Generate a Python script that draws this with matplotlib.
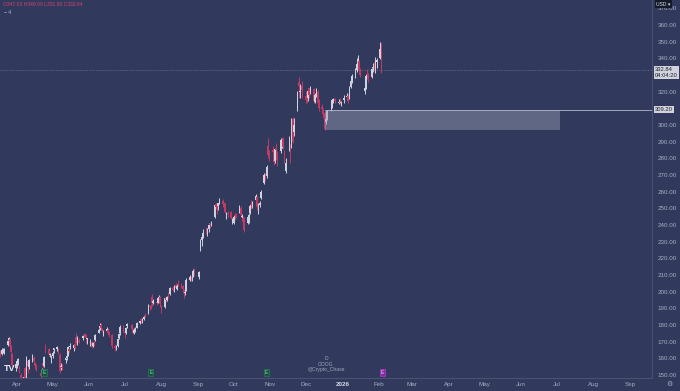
import matplotlib
matplotlib.use("Agg")
import matplotlib.pyplot as plt
import matplotlib.dates as mdates
from matplotlib.patches import Rectangle
from matplotlib.ticker import FuncFormatter, FixedLocator
from matplotlib.transforms import blended_transform_factory
import numpy as np
import pandas as pd

plt.rcParams['font.family'] = ['Liberation Sans', 'DejaVu Sans']

# GOOG daily candles, 17 Mar 2025 - 3 Feb 2026 (US market holidays skipped)
holidays = ["2025-04-18", "2025-05-26", "2025-06-19", "2025-07-04", "2025-09-01",
            "2025-11-27", "2025-12-25", "2026-01-01", "2026-01-19"]
days = pd.bdate_range("2025-03-17", "2026-02-03", freq="C", holidays=holidays)

opens = [
    164.0, 164.5, 162.5, 164.0, 163.5, 168.0, 171.0, 171.5, 167.0, 162.5, 154.0,
    155.5, 156.5, 153.0, 150.0, 143.0, 154.0, 146.0, 158.5, 155.0, 161.0, 160.5, 157.0, 155.5, 151.5, 151.0, 157.5, 155.5, 167.5, 165.5, 162.0, 159.5,
    161.5, 165.0, 165.5, 165.0, 162.0, 155.0, 155.0, 159.0, 160.5, 162.0, 165.5, 167.0, 166.0, 168.5, 173.0, 169.5, 170.5, 172.5, 174.5, 174.5, 171.5,
    170.5, 170.0, 167.5, 169.5, 171.0, 175.5, 178.0, 180.0, 177.5, 174.0, 176.5, 177.0, 175.5, 174.0, 167.5, 167.0, 167.5, 172.0, 175.0, 179.5,
    176.0, 175.0, 179.5, 180.0, 177.5, 175.5, 177.5, 178.5, 181.5, 183.5, 182.5, 183.5, 186.0, 187.0, 191.5, 191.5, 197.0, 193.0, 194.0, 193.5, 195.5, 196.5,
    191.0, 191.0, 196.0, 195.0, 198.0, 198.5, 202.0, 201.5, 204.0, 201.5, 204.5, 204.0, 203.5, 200.5, 199.5, 201.0, 207.0, 208.5, 208.0, 209.5, 212.5,
    209.0, 226.0, 231.0, 233.0, 236.0, 235.0, 237.5, 240.5, 241.0, 245.0, 252.5, 251.5, 251.5, 253.5, 254.5, 253.0, 252.5, 245.5, 247.5, 248.0, 242.0,
    241.5, 246.0, 246.5, 247.5, 250.5, 245.0, 244.5, 242.5, 241.5, 242.5, 247.5, 252.5, 251.5, 255.0, 257.0, 251.5, 252.0, 256.5, 265.0, 270.5, 269.5, 287.5, 283.0,
    285.0, 279.5, 278.5, 286.0, 283.0, 284.5, 290.0, 292.0, 284.5, 272.5, 286.0, 288.0, 287.5, 303.5, 296.0, 310.0, 326.0, 320.0, 323.5,
    317.5, 317.5, 316.0, 322.0, 319.5, 321.5, 314.0, 318.5, 320.0, 314.0, 311.0, 309.0, 307.0, 302.0, 304.5, 310.0, 311.0, 315.0, 315.5, 313.5, 314.0, 313.5,
    315.0, 317.0, 317.5, 316.0, 323.0, 327.0, 331.0, 333.0, 337.5, 338.5, 333.5, 320.5, 322.5, 330.5, 329.5, 329.0, 334.0, 337.5, 333.5, 338.0,
    340.5, 347.0,
]
highs = [
    166.5, 165.0, 166.5, 166.5, 166.5, 171.0, 173.0, 172.0, 168.0, 163.0, 157.5,
    159.0, 160.5, 155.5, 151.5, 153.0, 155.0, 161.5, 159.0, 159.5, 162.5, 161.5, 158.0, 156.5, 152.0, 154.0, 159.0, 161.5, 168.5, 166.5, 163.5, 162.0,
    164.5, 166.5, 167.5, 166.0, 163.0, 157.5, 156.5, 160.5, 162.5, 167.5, 166.5, 169.0, 168.5, 169.5, 175.0, 173.5, 172.5, 174.0, 175.5, 174.5, 172.5,
    171.5, 170.5, 170.0, 171.0, 174.5, 178.0, 181.0, 181.5, 178.5, 177.0, 179.0, 178.0, 176.5, 174.5, 168.5, 168.0, 172.0, 175.0, 180.0, 180.0,
    177.0, 179.0, 181.0, 180.5, 178.5, 178.0, 179.0, 182.0, 183.0, 184.5, 184.0, 185.5, 187.5, 192.5, 192.0, 192.5, 198.5, 195.5, 195.0, 197.0, 198.0, 197.5,
    192.0, 196.5, 197.5, 197.5, 200.0, 203.0, 203.5, 204.0, 205.0, 204.5, 207.0, 205.5, 204.0, 201.5, 202.0, 208.5, 210.0, 209.5, 210.0, 213.5, 214.0,
    212.5, 231.5, 233.5, 237.5, 239.0, 238.5, 241.0, 241.5, 242.5, 252.5, 253.0, 252.0, 253.5, 256.5, 255.5, 254.0, 253.0, 248.0, 248.5, 248.5, 244.5,
    246.0, 247.5, 247.5, 252.0, 251.5, 246.5, 245.5, 245.0, 245.5, 247.5, 252.5, 255.0, 254.5, 258.5, 257.5, 253.0, 254.5, 261.0, 271.0, 271.5, 276.0, 292.0, 285.0,
    287.5, 283.0, 286.5, 289.5, 284.5, 292.5, 292.5, 293.0, 285.0, 280.0, 293.5, 288.5, 304.0, 305.0, 304.0, 320.5, 329.0, 324.5, 326.5,
    320.5, 318.5, 321.5, 322.5, 323.5, 322.0, 319.0, 322.5, 321.0, 315.5, 312.5, 310.5, 308.0, 305.5, 309.0, 312.0, 315.5, 316.0, 316.5, 315.5, 316.5, 314.5,
    318.0, 319.5, 318.5, 323.5, 327.5, 330.5, 334.0, 340.5, 342.0, 339.0, 334.5, 324.0, 330.5, 333.5, 331.0, 334.5, 337.5, 338.5, 341.0, 340.5,
    350.0, 349.0,
]
lows = [
    163.0, 161.0, 162.0, 163.5, 162.5, 167.5, 170.5, 167.0, 163.5, 155.5, 152.5,
    154.5, 156.0, 151.5, 146.0, 142.5, 145.0, 145.0, 151.0, 153.5, 158.0, 158.0, 153.5, 152.5, 148.5, 150.0, 154.5, 155.0, 163.5, 161.5, 161.0, 157.5,
    160.5, 163.5, 164.5, 162.5, 151.0, 153.0, 153.0, 157.0, 159.0, 161.5, 163.5, 165.5, 164.5, 165.5, 168.5, 168.0, 169.5, 171.0, 173.0, 169.5, 168.5,
    167.5, 166.5, 167.0, 167.5, 170.5, 175.0, 177.0, 177.5, 176.0, 173.5, 176.0, 174.5, 173.0, 166.5, 164.5, 165.0, 167.0, 171.5, 174.0, 176.0,
    172.5, 174.5, 178.5, 176.5, 174.5, 174.5, 176.0, 178.0, 180.5, 181.5, 181.0, 183.0, 185.0, 186.5, 189.0, 189.5, 191.5, 192.5, 192.0, 193.0, 195.0, 191.0,
    187.5, 190.5, 194.0, 194.5, 196.5, 198.0, 200.5, 200.0, 201.5, 201.0, 203.5, 202.5, 199.5, 196.5, 198.0, 200.5, 206.5, 206.5, 206.5, 209.0, 209.5,
    207.5, 224.5, 227.5, 232.5, 234.5, 233.5, 236.0, 238.5, 239.5, 244.5, 249.5, 246.5, 249.0, 252.5, 251.0, 250.0, 247.5, 243.5, 245.0, 243.5, 240.5,
    240.5, 243.0, 244.0, 247.0, 245.0, 243.0, 240.5, 236.0, 240.5, 241.0, 246.5, 249.5, 250.0, 254.5, 249.0, 246.5, 251.0, 255.5, 264.5, 266.5, 268.5, 280.0, 278.5,
    280.0, 276.0, 277.5, 283.5, 275.5, 283.5, 286.5, 285.5, 277.5, 271.5, 284.5, 277.5, 286.5, 289.5, 293.5, 308.5, 316.5, 316.0, 316.5,
    313.0, 313.5, 314.5, 316.0, 318.5, 313.0, 313.5, 317.0, 311.5, 308.5, 306.5, 304.0, 297.0, 300.5, 303.0, 308.5, 310.5, 313.5, 313.5, 312.5, 312.5, 311.5,
    313.0, 315.0, 313.5, 315.5, 322.5, 325.0, 328.5, 332.0, 334.5, 331.5, 329.0, 318.5, 321.5, 327.5, 326.0, 328.5, 332.0, 333.0, 331.5, 334.5,
    339.5, 331.5,
]
closes = [
    165.5, 162.0, 165.0, 164.5, 165.5, 170.5, 172.5, 167.5, 164.0, 156.0, 156.5,
    158.5, 159.5, 152.5, 147.0, 149.0, 146.5, 160.5, 155.5, 159.0, 161.0, 158.5, 155.5, 153.5, 149.5, 153.0, 155.5, 161.0, 166.0, 162.5, 162.5, 160.5,
    163.5, 166.0, 166.5, 163.5, 152.5, 155.5, 154.5, 160.0, 161.5, 167.0, 164.5, 167.5, 168.0, 166.0, 169.5, 172.5, 170.0, 173.5, 173.0, 172.0, 172.0,
    171.0, 167.0, 169.0, 169.0, 174.0, 177.0, 179.5, 178.5, 176.5, 175.0, 177.5, 175.5, 174.0, 167.5, 166.0, 167.0, 171.5, 174.5, 179.0, 177.0,
    175.0, 178.5, 180.5, 177.5, 175.0, 177.0, 178.0, 181.5, 182.5, 182.5, 183.5, 184.5, 185.5, 191.5, 191.0, 191.0, 193.0, 194.5, 193.0, 196.0, 197.0, 192.5,
    189.5, 196.0, 195.0, 197.0, 197.5, 202.0, 201.0, 203.5, 202.0, 203.5, 204.0, 203.5, 201.5, 199.5, 200.0, 207.0, 209.0, 208.0, 208.5, 212.5, 212.0,
    212.0, 231.0, 233.0, 235.5, 235.0, 237.5, 240.0, 240.0, 241.5, 252.0, 251.0, 249.5, 253.0, 255.5, 252.5, 252.0, 248.0, 247.0, 246.5, 244.5, 243.5,
    245.0, 245.5, 245.5, 251.0, 246.0, 245.5, 242.0, 237.0, 245.0, 246.0, 251.5, 252.0, 254.0, 257.5, 251.0, 252.0, 253.5, 260.0, 270.0, 268.5, 275.0, 282.0, 282.0,
    284.0, 278.0, 285.5, 285.0, 279.0, 291.0, 291.5, 287.0, 279.5, 277.0, 286.5, 285.0, 293.0, 290.0, 300.0, 319.0, 323.5, 320.5, 321.0,
    315.0, 316.0, 320.5, 318.0, 322.0, 314.5, 318.0, 321.0, 313.0, 310.0, 309.5, 307.5, 297.5, 303.5, 308.5, 310.5, 315.0, 315.5, 314.5, 314.0, 313.0, 314.0,
    316.5, 317.5, 315.0, 322.5, 326.5, 329.5, 332.0, 336.5, 338.0, 333.0, 330.0, 322.0, 329.5, 330.0, 327.5, 333.5, 335.0, 334.0, 338.5, 339.0,
    345.5, 332.84,
]

earnings_past = ["2025-04-24", "2025-07-23", "2025-10-29"]
earnings_next = "2026-02-04"

# demand zone drawn by the author
zone_start, zone_end = "2025-12-17", "2026-07-04"
zone_low, zone_high = 297.0, 309.20
countdown = "04:04:20"

# 310 and 330 sit under the price tags, so TradingView hides them
y_ticks = [v for v in range(150, 380, 10) if v not in (310, 330)]

BG = "#313a5c"
UP = "#cfd3df"
DOWN = "#c23a63"
TXT = "#a7acbf"
SEP = "#48516f"

df = pd.DataFrame({"open": opens, "high": highs, "low": lows, "close": closes}, index=days)

fig = plt.figure(figsize=(6.8, 3.91), dpi=100)
fig.patch.set_facecolor(BG)
ax = fig.add_axes([0, 13 / 391, 652 / 680, 378 / 391])
ax.set_facecolor(BG)

x = mdates.date2num(df.index)
colors = np.where(df["close"] >= df["open"], UP, DOWN)
ax.vlines(x, df["low"], df["high"], colors=colors, lw=0.7, zorder=3)
body = (df["close"] - df["open"]).abs().clip(lower=0.4)
ax.bar(x, body, bottom=np.minimum(df["open"], df["close"]), width=1.35,
       color=colors, lw=0, zorder=3)

# zone + level line + last price line
z0, z1 = mdates.date2num(pd.Timestamp(zone_start)), mdates.date2num(pd.Timestamp(zone_end))
ax.add_patch(Rectangle((z0, zone_low), z1 - z0, zone_high - zone_low,
                       facecolor="#9aa0b8", alpha=0.45, lw=0, zorder=4))
xmin = mdates.date2num(pd.Timestamp("2025-03-17 15:00"))
xmax = mdates.date2num(pd.Timestamp("2026-09-19 17:00"))
ax.hlines(zone_high, z0, xmax, colors="#b4b8c8", lw=0.6, zorder=5)
ax.axhline(closes[-1], color="#7d85a3", lw=0.5, ls=(0, (1, 1.5)), zorder=2)

ax.set_xlim(xmin, xmax)
ax.set_ylim(148.2, 375)

# time axis
ax.xaxis.set_major_locator(mdates.MonthLocator())
def month_label(v, pos):
    d = mdates.num2date(v)
    return str(d.year) if d.month == 1 else d.strftime("%b")
ax.xaxis.set_major_formatter(FuncFormatter(month_label))
ax.tick_params(axis="x", length=0, pad=3, labelsize=4.5, colors=TXT)
for lab in ax.get_xticklabels():
    if lab.get_text() == "2026":
        lab.set_fontweight("bold")
        lab.set_color("#d6d9e3")

# price axis
ax.yaxis.tick_right()
ax.yaxis.set_major_locator(FixedLocator(y_ticks))
ax.yaxis.set_major_formatter(FuncFormatter(lambda v, p: f"{v:.2f}"))
ax.tick_params(axis="y", length=0, pad=4, labelsize=4.5, colors=TXT)

for side in ["left", "top"]:
    ax.spines[side].set_visible(False)
for side in ["right", "bottom"]:
    ax.spines[side].set_color(SEP)
    ax.spines[side].set_linewidth(0.8)

trans = blended_transform_factory(ax.transAxes, ax.transData)
ax.annotate(f"{closes[-1]:.2f}\n{countdown}", xy=(1, closes[-1]), xycoords=trans,
            xytext=(3, 3), textcoords="offset pixels", ha="left", va="top",
            fontsize=4.2, color="#1e222d", linespacing=1.1, annotation_clip=False,
            bbox=dict(boxstyle="square,pad=0.2", fc="#d1d4dc", ec="none"))
ax.annotate(f"{zone_high:.2f}", xy=(1, zone_high), xycoords=trans,
            xytext=(3, 0), textcoords="offset pixels", ha="left", va="center",
            fontsize=4.2, color="#1e222d", annotation_clip=False,
            bbox=dict(boxstyle="square,pad=0.2", fc="#d1d4dc", ec="none"))

# earnings flags
etrans = blended_transform_factory(ax.transData, ax.transAxes)
for d in earnings_past:
    ax.text(mdates.date2num(pd.Timestamp(d)), 0.014, "E", transform=etrans,
            ha="center", va="center", fontsize=3.4, color="#7fe0a8", zorder=6,
            bbox=dict(boxstyle="square,pad=0.25", fc="#17533d", ec="#2b8a5e", lw=0.4))
ax.text(mdates.date2num(pd.Timestamp(earnings_next)), 0.014, "E", transform=etrans,
        ha="center", va="center", fontsize=3.4, color="#f0d0f5", zorder=6,
        bbox=dict(boxstyle="square,pad=0.25", fc="#8e24aa", ec="#b04ccc", lw=0.4))

# watermark + logo
ax.text(0.5, (378 - 364) / 378, "D\nGOOG\n@Crypto_Chase", transform=ax.transAxes,
        ha="center", va="center", fontsize=3.6, color="#a0a6ba", linespacing=1.1)
ax.text(0.006, 0.012, "TV", transform=ax.transAxes, ha="left", va="bottom",
        fontsize=6.5, fontweight="heavy", color="#e8eaf0")

# legend header
fig.text(0.004, 1 - 4 / 391, "O347.00 H349.00 L331.50 C332.84", ha="left", va="center",
         fontsize=3.6, color="#d0436f")
fig.text(0.006, 1 - 12 / 391, "− 4", ha="left", va="center", fontsize=3.6, color="#b8bccb")

# price-axis chrome
fig.text(656 / 680, 1 - 4 / 391, "USD ▾", ha="left", va="center", fontsize=3.6,
         color="#e0e3eb", bbox=dict(boxstyle="square,pad=0.3", fc="#151a2b", ec="none"))
fig.text(669 / 680, 1 - 384 / 391, "⚙", ha="center", va="center", fontsize=5,
         color=TXT, family="DejaVu Sans")

fig.savefig("out.png", dpi=100, facecolor=BG)
